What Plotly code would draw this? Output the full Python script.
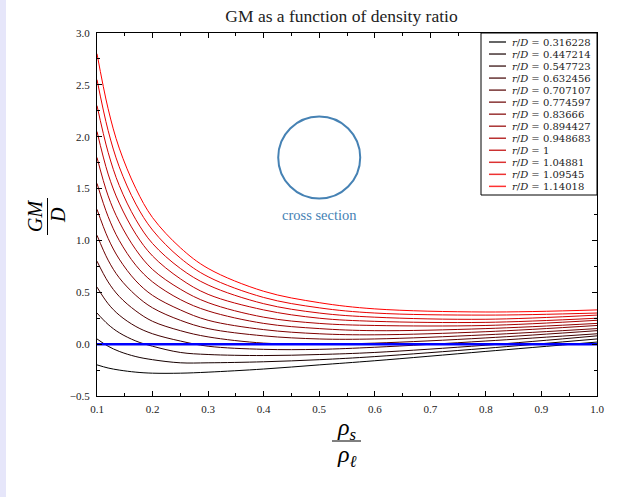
"""GM/D against density ratio for a circular cross section."""

import plotly.graph_objects as go

# density ratio rho_s / rho_l, sample points
RHO_RATIO = [0.10, 0.12, 0.14, 0.17, 0.20, 0.25, 0.30, 0.40, 0.50, 0.60, 0.80, 1.00]

# GM/D at the RHO_RATIO points
GM_0316228 = [-0.20, -0.23, -0.25, -0.27, -0.28, -0.28, -0.27, -0.24, -0.20, -0.16, -0.07, 0.02]
GM_0447214 = [0.05, -0.02, -0.07, -0.12, -0.15, -0.18, -0.18, -0.17, -0.15, -0.12, -0.04, 0.05]
GM_0547723 = [0.30, 0.19, 0.11, 0.03, -0.02, -0.08, -0.10, -0.11, -0.10, -0.08, -0.01, 0.08]
GM_0632456 = [0.55, 0.39, 0.28, 0.17, 0.10, 0.03, -0.02, -0.05, -0.05, -0.03, 0.03, 0.10]
GM_0707107 = [0.80, 0.60, 0.46, 0.32, 0.22, 0.13, 0.07, 0.01, 0.00, 0.01, 0.06, 0.13]
GM_0774597 = [1.05, 0.81, 0.64, 0.47, 0.35, 0.23, 0.15, 0.08, 0.05, 0.05, 0.09, 0.15]
GM_083666 = [1.30, 1.02, 0.82, 0.61, 0.47, 0.33, 0.23, 0.14, 0.10, 0.09, 0.12, 0.18]
GM_0894427 = [1.55, 1.23, 1.00, 0.76, 0.60, 0.43, 0.32, 0.20, 0.15, 0.13, 0.15, 0.20]
GM_0948683 = [1.80, 1.43, 1.18, 0.91, 0.72, 0.53, 0.40, 0.26, 0.20, 0.18, 0.18, 0.23]
GM_1 = [2.05, 1.64, 1.36, 1.06, 0.85, 0.63, 0.48, 0.33, 0.25, 0.22, 0.21, 0.25]
GM_104881 = [2.30, 1.85, 1.53, 1.20, 0.97, 0.73, 0.57, 0.39, 0.30, 0.26, 0.24, 0.28]
GM_109545 = [2.55, 2.06, 1.71, 1.35, 1.10, 0.83, 0.65, 0.45, 0.35, 0.30, 0.28, 0.30]
GM_114018 = [2.80, 2.27, 1.89, 1.50, 1.22, 0.93, 0.73, 0.51, 0.40, 0.34, 0.31, 0.33]

RD_LABELS = ["0.316228", "0.447214", "0.547723", "0.632456", "0.707107", "0.774597",
             "0.83666", "0.894427", "0.948683", "1", "1.04881", "1.09545", "1.14018"]
CURVES = [GM_0316228, GM_0447214, GM_0547723, GM_0632456, GM_0707107, GM_0774597,
          GM_083666, GM_0894427, GM_0948683, GM_1, GM_104881, GM_109545, GM_114018]

SERIF = "Liberation Serif, DejaVu Serif, serif"
WIDE_SERIF = "DejaVu Serif, serif"
W, H = 631, 497
ML, MR, MT, MB = 97, 34, 33, 101
PW, PH = W - ML - MR, H - MT - MB


def px_x(px):
    return (px - ML) / PW


def px_y(py):
    return (H - MB - py) / PH


def paper_text(x, y, text, size, color="black", angle=0, anchor="center", family=SERIF):
    return dict(x=px_x(x), y=px_y(y), xref="paper", yref="paper", text=text,
                showarrow=False, textangle=angle, xanchor=anchor, yanchor="middle",
                borderpad=0, font=dict(family=family, size=size, color=color))


def paper_line(x0, y0, x1, y1, color="black", width=1, opacity=1):
    return dict(type="line", xref="paper", yref="paper", x0=px_x(x0), x1=px_x(x1),
                y0=px_y(y0), y1=px_y(y1), opacity=opacity,
                line=dict(color=color, width=width))


fig = go.Figure()
n = len(CURVES)
colors = [f"rgb({int(round(255 * i / (n - 1)))},0,0)" for i in range(n)]
for lab, gm, col in zip(RD_LABELS, CURVES, colors):
    fig.add_trace(go.Scatter(
        x=RHO_RATIO, y=gm, mode="lines",
        line=dict(color=col, width=1, shape="spline", smoothing=1.0),
        name=f"r/D = {lab}", showlegend=False,
    ))

# neutral line GM = 0
fig.add_trace(go.Scatter(
    x=[RHO_RATIO[0], RHO_RATIO[-1]], y=[0, 0], mode="lines",
    line=dict(color="#0000ff", width=2.5), showlegend=False, hoverinfo="skip",
))

axis_common = dict(
    showline=True, linecolor="black", linewidth=1, mirror="ticks",
    ticks="inside", ticklen=5, tickcolor="black", showgrid=False, zeroline=False,
    tickfont=dict(family=SERIF, size=11, color="#222"),
)
fig.update_xaxes(range=[0.1, 1.0], dtick=0.1, tick0=0.1, tickformat=".1f",
                 ticklabelstandoff=3,
                 minor=dict(dtick=0.05, ticks="inside", ticklen=3, tickcolor="black"),
                 **axis_common)
fig.update_yaxes(range=[-0.5, 3.0], dtick=0.5, tick0=0, tickformat=".1f",
                 ticklabelstandoff=4,
                 minor=dict(dtick=0.25, ticks="inside", ticklen=3, tickcolor="black"),
                 **axis_common)

shapes = [
    # pale strip at the left edge of the page
    dict(type="rect", xref="paper", yref="paper", x0=px_x(0), x1=px_x(6),
         y0=px_y(H), y1=px_y(0), fillcolor="#e6e6fa", line=dict(width=0), layer="below"),
    # cross section sketch
    dict(type="circle", xref="x", yref="y", xsizemode="pixel", ysizemode="pixel",
         xanchor=0.5, yanchor=1.8, x0=-41, x1=41, y0=-41, y1=41,
         line=dict(color="#4682b4", width=2)),
    # fraction bars of the axis titles
    paper_line(332, 441, 361, 441),
    paper_line(47.5, 198, 47.5, 235),
    # legend box
    dict(type="rect", xref="paper", yref="paper", x0=px_x(481), x1=px_x(597),
         y0=px_y(195), y1=px_y(33), fillcolor="white", line=dict(color="black", width=1)),
]

annotations = [
    dict(x=0.5, y=1.245, xref="x", yref="y", text="cross section", showarrow=False,
         font=dict(family=SERIF, size=14.5, color="#4682b4")),
    paper_text(347, 429, "<i>ρ<sub>s</sub></i>", 24),
    paper_text(347, 456, "<i>ρ<sub>ℓ</sub></i>", 24),
    paper_text(35, 216, "<i>GM</i>", 20, angle=-90),
    paper_text(58, 215, "<i>D</i>", 20, angle=-90),
]

# legend entries, drawn by hand to get the tight row spacing
for i, (lab, col) in enumerate(zip(RD_LABELS, colors)):
    yy = 42 + 12.03 * i
    shapes.append(paper_line(489, yy, 506, yy, color=col, width=1.5, opacity=0.8))
    annotations.append(paper_text(511, yy, f"<i>r</i>/<i>D</i> = {lab}", 10,
                                  color="#222", anchor="left", family=WIDE_SERIF))

fig.update_layout(
    width=W, height=H, autosize=False,
    margin=dict(l=ML, r=MR, t=MT, b=MB),
    paper_bgcolor="white", plot_bgcolor="white",
    title=dict(text="GM as a function of density ratio", xref="paper", x=px_x(341.5),
               xanchor="center", y=1 - 16 / H, yanchor="middle",
               font=dict(family=SERIF, size=17.5, color="#222")),
    showlegend=False,
    shapes=shapes, annotations=annotations,
)

# the page margin is dropped so the figure sits at the window's corner
fig.write_html("out.html", config={"displayModeBar": False},
               post_script="document.body.style.margin='0px';")
